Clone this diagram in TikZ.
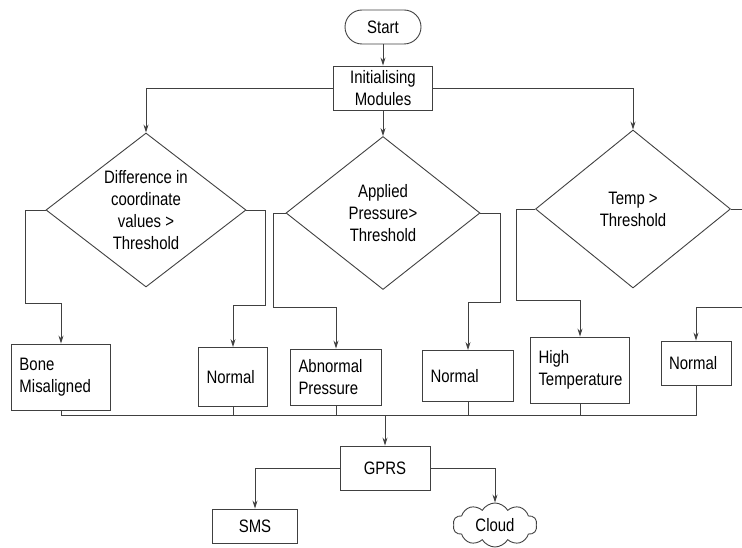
\documentclass[tikz,border=0pt]{standalone}
\usepackage{fontspec}
\setmainfont[FakeStretch=0.83]{Liberation Sans}
\usetikzlibrary{shapes.geometric,shapes.symbols,arrows.meta}
\definecolor{linegray}{HTML}{404040}
\begin{document}
\begin{tikzpicture}[x=1pt,y=-1pt,
        >={Stealth[length=8pt,width=5pt]},
        every node/.style={draw=linegray,line width=0.9pt,font=\fontsize{18}{22}\selectfont},
        box/.style={rectangle,align=left,inner xsep=8pt,inner ysep=0pt},
        cbox/.style={rectangle,align=center,inner sep=0pt},
        decision/.style={diamond,align=center,inner sep=0pt,aspect=1.28},
        terminal/.style={rectangle,rounded corners=17pt,inner sep=0pt,minimum width=76pt,minimum height=34pt},
        link/.style={draw=linegray,line width=0.9pt}]
    \useasboundingbox (0,0) rectangle (742,548);
    \clip (0,0) rectangle (742,548);

    \node[terminal] at (383, 27) (start) {Start};
    \node[cbox,minimum width=99pt,minimum height=44pt] at (383, 88) (init) {Initialising\\Modules};

    \node[decision,minimum width=200pt,minimum height=154pt] at (146, 210) (ldia) {Difference in\\coordinate\\values >\\Threshold};
    \node[decision,minimum width=194pt,minimum height=153pt] at (383, 213) (mdia) {Applied\\Pressure>\\Threshold};
    \node[decision,minimum width=195pt,minimum height=158pt] at (633, 209) (rdia) {Temp >\\Threshold};

    \node[box,text width=83pt,minimum height=66pt] at (61, 377)  (bone) {Bone\\Misaligned};
    \node[box,text width=53pt,minimum height=59pt] at (233, 377) (norm1) {Normal};
    \node[box,text width=75pt,minimum height=56pt] at (336, 377) (abn) {Abnormal\\Pressure};
    \node[box,text width=75pt,minimum height=51pt] at (468, 376) (norm2) {Normal};
    \node[box,text width=83pt,minimum height=66pt] at (580, 370) (high) {High\\Temperature};
    \node[box,text width=54pt,minimum height=44pt] at (696, 363) (norm3) {Normal};

    \node[cbox,minimum width=90pt,minimum height=44pt] at (385, 468) (gprs) {GPRS};
    \node[cbox,minimum width=85pt,minimum height=34pt] at (255, 526) (sms) {SMS};
    \node[cloud,cloud puffs=10,cloud puff arc=120,aspect=2,inner sep=0pt,minimum width=84pt,minimum height=44pt] at (495, 525) (cloud) {Cloud};

    \coordinate (bus) at (385, 415);

    \draw[link,->] (start) -- (init);
    \draw[link,->] (init.west) -| (ldia.north);
    \draw[link,->] (init) -- (mdia);
    \draw[link,->] (init.east) -| (rdia.north);

    \draw[link,->] (ldia.west) -| (25, 303) -| (bone.north);
    \draw[link,->] (ldia.east) -| (265, 305) -| (norm1.north);
    \draw[link,->] (mdia.west) -| (273, 307) -| (abn.north);
    \draw[link,->] (mdia.east) -| (500, 302) -| (norm2.north);
    \draw[link,->] (rdia.west) -| (516, 300) -| (high.north);
    \draw[link,->] (rdia.east) -| (760, 307) -| (norm3.north);

    \draw[link] (bone.south) |- (norm3.south |- bus) -- (norm3.south);
    \foreach \b in {norm1,abn,norm2,high}
        \draw[link] (\b.south) -- (\b.south |- bus);
    \draw[link,->] (bus) -- (gprs.north);

    \draw[link,->] (gprs.west) -| (sms.north);
    \draw[link,->] (gprs.east) -| (cloud.north);
\end{tikzpicture}
\end{document}
